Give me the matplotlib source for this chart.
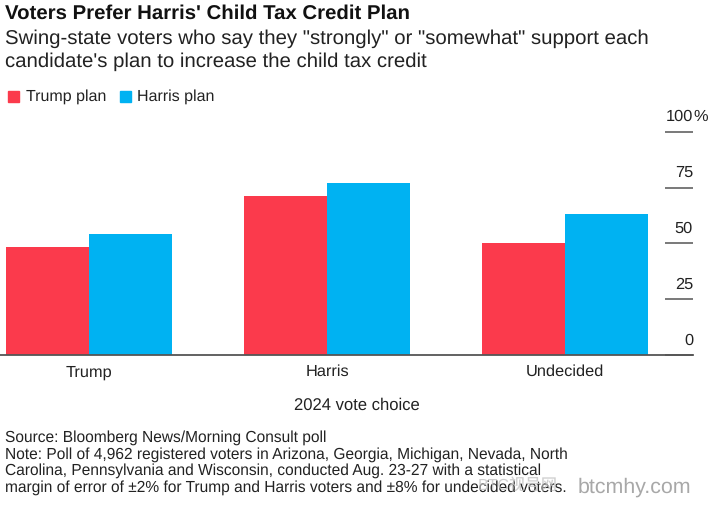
import matplotlib
matplotlib.use('Agg')
import matplotlib.pyplot as plt
from matplotlib.patches import Rectangle
from matplotlib.transforms import blended_transform_factory
import numpy as np

plt.rcParams['font.family'] = ['Liberation Sans', 'Noto Sans CJK SC', 'DejaVu Sans']
plt.rcParams['text.hinting'] = 'no_hinting'

W, H = 708, 512

categories = ['Trump', 'Harris', 'Undecided']
trump_plan = [48.5, 71, 50]
harris_plan = [54, 77, 63]
tick_values = [0, 25, 50, 75, 100]
tick_labels = ['0', '25', '50', '75', '100']

RED = '#fb3a4c'
BLUE = '#00b2f2'
TEXT = '#222222'

fig = plt.figure(figsize=(W / 100, H / 100), dpi=100)

# axes placed in pixels, x=0 is the left edge of the picture
left, right, top, bottom = 0, 693, 131.7, 355
ax = fig.add_axes([left / W, 1 - bottom / H, (right - left) / W, (bottom - top) / H])

x = np.arange(len(categories))
bar_w = 83 / 238
ax.bar(x - bar_w / 2, trump_plan, bar_w, color=RED)
ax.bar(x + bar_w / 2, harris_plan, bar_w, color=BLUE)

ax.set_xlim(-89 / 238, (693 - 89) / 238)
ax.set_ylim(0, 100)
ax.set_xticks(x)
ax.set_xticklabels(categories, fontsize=11.8, color=TEXT)
ax.tick_params(axis='x', length=0, pad=7)

ax.yaxis.tick_right()
ax.set_yticks(tick_values)
ax.set_yticklabels([])
ax.tick_params(axis='y', direction='in', length=20, width=1.1, color='#555555')

for s in ['top', 'left', 'right']:
    ax.spines[s].set_visible(False)
ax.spines['bottom'].set_color('#555555')
ax.spines['bottom'].set_linewidth(1.3)

# y labels sit on top of the tick lines
tr = blended_transform_factory(ax.transAxes, ax.transData)
for v, lab in zip(tick_values, tick_labels):
    ax.text(1, v + 3.2, lab, transform=tr, ha='right', va='bottom', fontsize=11.8, color=TEXT, clip_on=False)
ax.text(1, 103.2, '%', transform=tr, ha='left', va='bottom', fontsize=11.8, color=TEXT, clip_on=False)


def px_text(px, py, s, **kw):
    fig.text(px / W, 1 - py / H, s, va='center', ha=kw.pop('ha', 'left'), **kw)


px_text(5, 14, "Voters Prefer Harris' Child Tax Credit Plan", fontsize=14.7, fontweight='bold', color='#111111')
px_text(5, 39, 'Swing-state voters who say they "strongly" or "somewhat" support each', fontsize=14.66, color=TEXT)
px_text(5, 62, "candidate's plan to increase the child tax credit", fontsize=14.66, color=TEXT)

# legend
fig.patches.append(Rectangle((8 / W, 1 - 102 / H), 11 / W, 11 / H, transform=fig.transFigure, color=RED))
px_text(26, 97, 'Trump plan', fontsize=11.5, color=TEXT)
fig.patches.append(Rectangle((120 / W, 1 - 102 / H), 11 / W, 11 / H, transform=fig.transFigure, color=BLUE))
px_text(137, 97, 'Harris plan', fontsize=11.5, color=TEXT)

px_text(357, 405.5, '2024 vote choice', fontsize=12, color=TEXT, ha='center')

notes = [
    'Source: Bloomberg News/Morning Consult poll',
    'Note: Poll of 4,962 registered voters in Arizona, Georgia, Michigan, Nevada, North',
    'Carolina, Pennsylvania and Wisconsin, conducted Aug. 23-27 with a statistical',
    'margin of error of \u00b12% for Trump and Harris voters and \u00b18% for undecided voters.',
]
for i, line in enumerate(notes):
    px_text(5, 438 + i * 16.4, line, fontsize=11.18, color=TEXT)

# faint watermark, bottom right
px_text(478, 486, 'BTC\u89c6\u53f7\u7f51', fontsize=11.5, color='#c4c4c4', alpha=0.8)
px_text(578, 487, 'btcmhy.com', fontsize=15.4, color='#a8a8a8')

fig.savefig('out.png', dpi=100)
